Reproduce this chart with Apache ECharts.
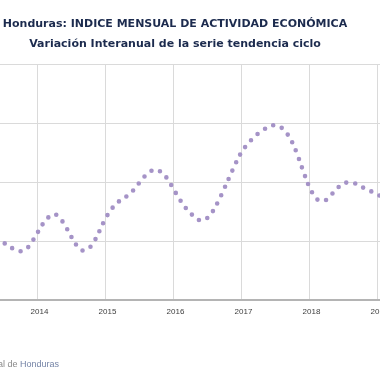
<!DOCTYPE html>
<html>
<head>
<meta charset="utf-8">
<script src="https://cdn.jsdelivr.net/npm/echarts@6/dist/echarts.min.js"></script>
<style>
html,body{margin:0;padding:0;background:#fff;}
#c{width:380px;height:380px;}
</style>
</head>
<body>
<div id="c"></div>
<script>
// Months (Jun 2013 .. Feb 2019)
const months = [
  '2013-06','2013-07','2013-08','2013-09','2013-10','2013-11','2013-12',
  '2014-01','2014-02','2014-03','2014-04','2014-05','2014-06','2014-07','2014-08','2014-09','2014-10','2014-11','2014-12',
  '2015-01','2015-02','2015-03','2015-04','2015-05','2015-06','2015-07','2015-08','2015-09','2015-10','2015-11','2015-12',
  '2016-01','2016-02','2016-03','2016-04','2016-05','2016-06','2016-07','2016-08','2016-09','2016-10','2016-11','2016-12',
  '2017-01','2017-02','2017-03','2017-04','2017-05','2017-06','2017-07','2017-08','2017-09','2017-10','2017-11','2017-12',
  '2018-01','2018-02','2018-03','2018-04','2018-05','2018-06','2018-07','2018-08','2018-09','2018-10','2018-11','2018-12',
  '2019-01','2019-02'
];
// Year-on-year variation, trend-cycle series (%)
const variacion = [
  2.10,1.96,1.83,1.72,1.65,1.71,1.94,
  2.25,2.57,2.80,2.91,2.78,2.51,2.16,1.85,1.68,1.73,1.96,2.33,
  2.73,3.04,3.27,3.41,3.54,3.72,3.96,4.19,4.36,4.41,4.32,4.11,
  3.79,3.47,3.18,2.96,2.79,2.69,2.77,3.00,3.35,3.76,4.18,4.61,
  4.98,5.25,5.46,5.64,5.78,5.87,5.93,5.86,5.67,5.36,4.90,4.36,
  3.86,3.52,3.36,3.39,3.58,3.79,3.93,3.99,3.96,3.86,3.77,3.68,
  3.58,3.49
];
const yMin = 0, yMax = 8, yStep = 2;
const titleText = 'Honduras: INDICE MENSUAL DE ACTIVIDAD ECONÓMICA';
const subtitleText = 'Variación Interanual de la serie tendencia ciclo';
const sourcePrefix = 'Fuente: Banco Central de ';
const sourceName = 'Honduras';

const isJan = (i, v) => String(v).slice(5) === '01';

const chart = echarts.init(document.getElementById('c'), null, {renderer: 'canvas'});
chart.setOption({
  animation: false,
  backgroundColor: '#ffffff',
  grid: {left: -2.67, right: -2.67, top: 64, bottom: 80, containLabel: false, outerBoundsMode: 'none'},
  xAxis: {
    type: 'category',
    data: months,
    boundaryGap: false,
    axisLine: {show: true, lineStyle: {color: '#b4b4b4', width: 2}},
    axisTick: {show: false},
    axisLabel: {
      interval: isJan,
      formatter: v => v.slice(0, 4),
      fontFamily: 'Liberation Sans',
      fontSize: 8,
      color: '#404040',
      margin: 8,
      padding: [0, 0, 0, 5]
    },
    splitLine: {show: true, interval: isJan, lineStyle: {color: '#dadada', width: 1}}
  },
  yAxis: {
    type: 'value',
    min: yMin, max: yMax, interval: yStep,
    axisLine: {show: false},
    axisTick: {show: false},
    axisLabel: {show: false},
    splitLine: {show: true, lineStyle: {color: '#dadada', width: 1}}
  },
  series: [{
    type: 'line',
    data: variacion,
    smooth: 0.4,
    showSymbol: false,
    symbol: 'none',
    lineStyle: {color: '#a593c7', width: 4.6, type: [0, 9], cap: 'round'}
  }],
  graphic: [
    {type: 'text', x: 175, y: 24, style: {text: titleText, font: 'bold 11px "DejaVu Sans"', fill: '#1c2b4e', textAlign: 'center', textVerticalAlign: 'middle'}},
    {type: 'text', x: 175, y: 44.5, style: {text: subtitleText, font: 'bold 11px "DejaVu Sans"', fill: '#1c2b4e', textAlign: 'center', textVerticalAlign: 'middle'}},
    {type: 'text', x: 59, y: 365, style: {
      text: '{a|' + sourcePrefix + '}{b|' + sourceName + '}',
      textAlign: 'right', textVerticalAlign: 'middle',
      rich: {
        a: {fontFamily: 'Liberation Sans', fontSize: 9, fill: '#8a8a8a', color: '#8a8a8a'},
        b: {fontFamily: 'Liberation Sans', fontSize: 9, fill: '#7584a6', color: '#7584a6'}
      }
    }}
  ]
});
</script>
</body>
</html>
